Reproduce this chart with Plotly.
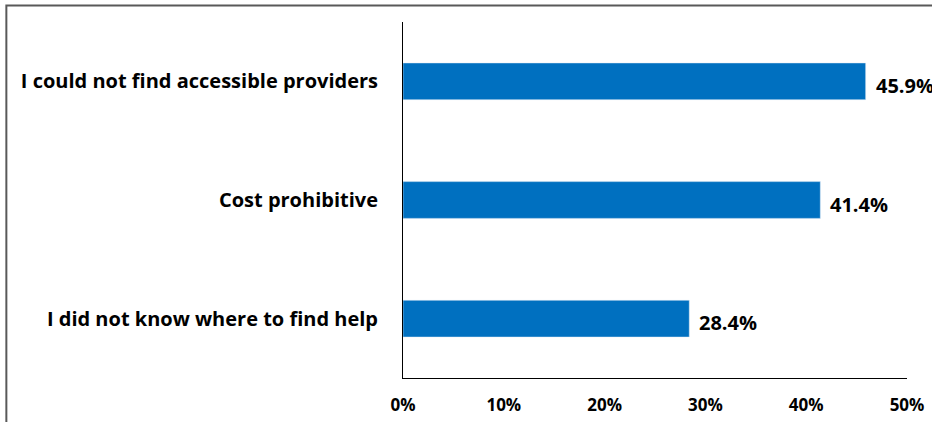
from plotly import graph_objects as go

categories = [
    'I did not know where to find help',
    'Cost prohibitive',
    'I could not find accessible providers',
]
values = [28.4, 41.4, 45.9]
x_ticks = [0, 10, 20, 30, 40, 50]
x_tick_labels = [f'{t}%' for t in x_ticks]

FONT = 'Open Sans'

fig = go.Figure()

fig.add_trace(go.Bar(
    x=values,
    y=categories,
    orientation='h',
    marker_color='#0070C0',
    width=0.31,
))

# value labels just right of each bar
for cat, val in zip(categories, values):
    fig.add_annotation(
        x=val, y=cat,
        text=f'{val:.1f}%',
        showarrow=False,
        xanchor='left',
        xshift=8,
        yshift=-4,
        font=dict(family=FONT, size=20, color='black', weight='bold'),
    )

# outer frame (top and left edges only, as in the picture)
fig.add_shape(
    type='path',
    xref='paper', yref='paper',
    path='M -0.787,-0.2 L -0.787,1.046 L 1.1,1.046',
    line=dict(color='#595959', width=2),
)

fig.update_xaxes(
    range=[0, 50],
    tickmode='array',
    tickvals=x_ticks,
    ticktext=x_tick_labels,
    showgrid=False,
    zeroline=False,
    showline=True,
    linecolor='black',
    linewidth=1,
    ticks='outside',
    ticklen=12,
    tickcolor='rgba(0,0,0,0)',
    automargin=False,
    tickfont=dict(family=FONT, size=17, color='black', weight='bold'),
)

fig.update_yaxes(
    showgrid=False,
    showline=True,
    linecolor='black',
    linewidth=1,
    ticks='outside',
    ticklen=20,
    tickcolor='rgba(0,0,0,0)',
    automargin=False,
    tickfont=dict(family=FONT, size=20, color='black', weight='bold'),
)

fig.update_layout(
    width=932,
    height=422,
    margin=dict(l=403, r=25, t=22, b=44),
    plot_bgcolor='white',
    paper_bgcolor='white',
    showlegend=False,
)

fig.write_html(
    'out.html',
    config={'displayModeBar': False},
    post_script="document.body.style.margin='0';",
)
